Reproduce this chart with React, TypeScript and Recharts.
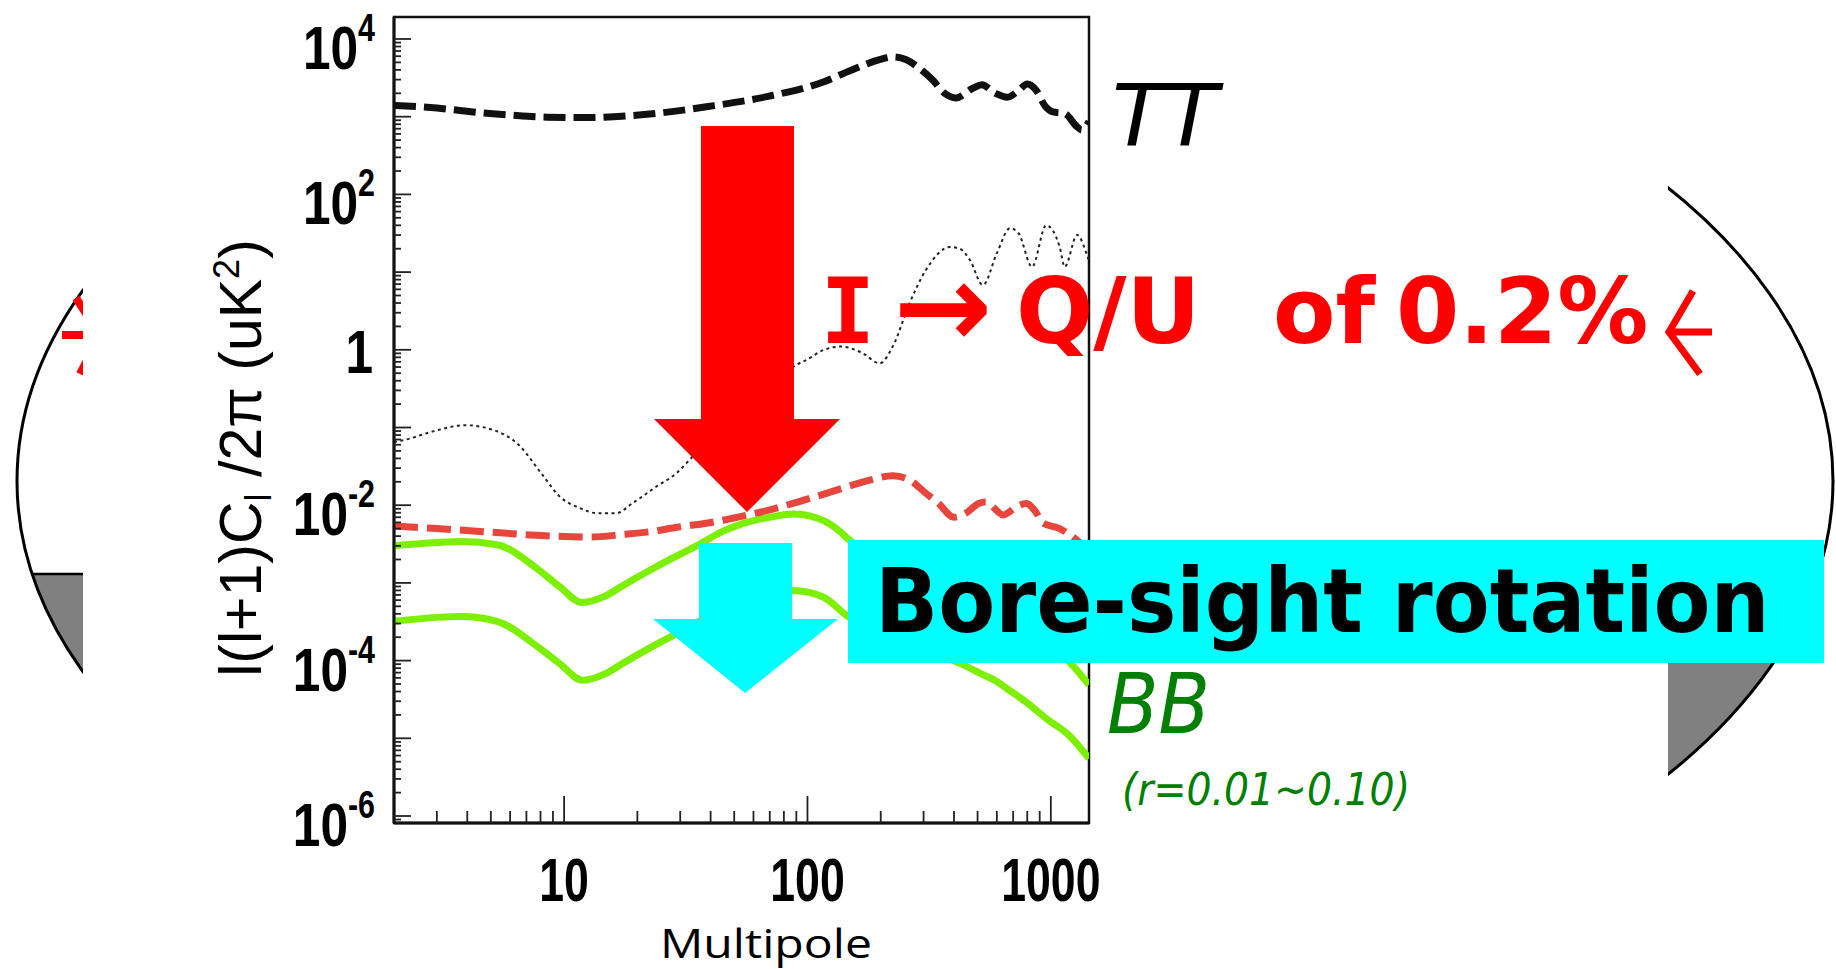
import React from 'react';
import { LineChart, Line, XAxis, YAxis, ReferenceArea } from 'recharts';

// ---------- data (multipole l, value in uK^2) ----------
const ttData = [
  { l: 2, v: 1400 }, { l: 3, v: 1290 }, { l: 4.5, v: 1130 }, { l: 6, v: 1050 }, { l: 8.5, v: 985 },
  { l: 12, v: 975 }, { l: 16, v: 1000 }, { l: 25, v: 1120 }, { l: 39, v: 1350 }, { l: 68, v: 1810 },
  { l: 117, v: 2820 }, { l: 152, v: 3990 }, { l: 201, v: 5500 }, { l: 225, v: 5900 }, { l: 255, v: 5400 },
  { l: 294, v: 3990 }, { l: 327, v: 2960 }, { l: 366, v: 2000 }, { l: 407, v: 1740 }, { l: 478, v: 2320 },
  { l: 520, v: 2570 }, { l: 592, v: 2000 }, { l: 662, v: 1780 }, { l: 740, v: 2190 }, { l: 800, v: 2630 },
  { l: 870, v: 2190 }, { l: 950, v: 1350 }, { l: 1020, v: 1150 }, { l: 1140, v: 1100 }, { l: 1280, v: 745 },
  { l: 1340, v: 675 }, { l: 1435, v: 870 },
];

const eeData = [
  { l: 2, v: 0.065 }, { l: 2.2, v: 0.069 }, { l: 3, v: 0.092 }, { l: 3.9, v: 0.107 }, { l: 5, v: 0.095 },
  { l: 6.5, v: 0.06 }, { l: 8.15, v: 0.0245 }, { l: 9.6, v: 0.0129 }, { l: 11.6, v: 0.0092 }, { l: 13.6, v: 0.0079 },
  { l: 16.4, v: 0.0079 }, { l: 19.1, v: 0.0106 }, { l: 23.9, v: 0.0173 }, { l: 28.9, v: 0.0257 }, { l: 33.7, v: 0.042 },
  { l: 45, v: 0.1 }, { l: 60, v: 0.22 }, { l: 75, v: 0.4 }, { l: 90, v: 0.64 }, { l: 99, v: 0.74 },
  { l: 117, v: 1.0 }, { l: 137, v: 1.1 }, { l: 169, v: 0.9 }, { l: 198, v: 0.67 }, { l: 224, v: 1.1 },
  { l: 263, v: 4.0 }, { l: 307, v: 10.7 }, { l: 385, v: 21 }, { l: 422, v: 20 }, { l: 465, v: 14.3 },
  { l: 526, v: 6.8 }, { l: 600, v: 17.5 }, { l: 680, v: 36.7 }, { l: 737, v: 31.6 }, { l: 837, v: 11.7 },
  { l: 957, v: 40 }, { l: 1088, v: 21 }, { l: 1140, v: 11.7 }, { l: 1283, v: 30 }, { l: 1400, v: 17.5 },
  { l: 1435, v: 14 },
];

const leakData = [
  { l: 2, v: 0.0054 }, { l: 3, v: 0.005 }, { l: 4.5, v: 0.0046 }, { l: 7.7, v: 0.0041 }, { l: 13, v: 0.0039 },
  { l: 17.4, v: 0.0042 }, { l: 23, v: 0.0046 }, { l: 28, v: 0.0051 }, { l: 39, v: 0.0059 }, { l: 45, v: 0.0064 },
  { l: 57, v: 0.0075 }, { l: 72, v: 0.0089 }, { l: 94, v: 0.0113 }, { l: 104, v: 0.0124 }, { l: 152, v: 0.018 },
  { l: 180, v: 0.021 }, { l: 224, v: 0.024 }, { l: 263, v: 0.021 }, { l: 307, v: 0.0142 }, { l: 344, v: 0.0107 },
  { l: 400, v: 0.007 }, { l: 450, v: 0.008 }, { l: 505, v: 0.0105 }, { l: 540, v: 0.011 }, { l: 638, v: 0.0075 },
  { l: 720, v: 0.0095 }, { l: 794, v: 0.0105 }, { l: 860, v: 0.0085 }, { l: 930, v: 0.0059 }, { l: 1088, v: 0.005 },
  { l: 1232, v: 0.0039 }, { l: 1300, v: 0.0034 }, { l: 1435, v: 0.0025 },
];

const bbHighData = [
  { l: 2, v: 0.003 }, { l: 3, v: 0.0033 }, { l: 3.8, v: 0.0034 }, { l: 5.3, v: 0.0031 }, { l: 7.8, v: 0.0015 },
  { l: 9.6, v: 0.00089 }, { l: 11.8, v: 0.00056 }, { l: 14.8, v: 0.00068 }, { l: 17.4, v: 0.00092 }, { l: 22.9, v: 0.0015 },
  { l: 28, v: 0.0021 }, { l: 35, v: 0.003 }, { l: 44.8, v: 0.0046 }, { l: 51.6, v: 0.0055 }, { l: 71.6, v: 0.0071 },
  { l: 87, v: 0.0077 }, { l: 110, v: 0.0068 }, { l: 137, v: 0.0045 }, { l: 145, v: 0.0038 }, { l: 200, v: 0.0022 },
  { l: 300, v: 0.0014 }, { l: 424, v: 0.00092 }, { l: 526, v: 0.00066 }, { l: 600, v: 0.00054 }, { l: 658, v: 0.00044 },
  { l: 794, v: 0.00029 }, { l: 957, v: 0.00018 }, { l: 1204, v: 0.000093 }, { l: 1435, v: 0.000049 },
];

const bbLowData = [
  { l: 2, v: 0.00032 }, { l: 3, v: 0.00036 }, { l: 3.8, v: 0.00037 }, { l: 5.3, v: 0.00032 }, { l: 7.8, v: 0.00015 },
  { l: 9.6, v: 0.000091 }, { l: 11.9, v: 0.000056 }, { l: 14.8, v: 0.000068 }, { l: 17.4, v: 0.000092 }, { l: 22.9, v: 0.00015 },
  { l: 28, v: 0.00021 }, { l: 45, v: 0.00045 }, { l: 60, v: 0.00062 }, { l: 87, v: 0.0008 }, { l: 116, v: 0.00066 },
  { l: 145, v: 0.00038 }, { l: 200, v: 0.00022 }, { l: 300, v: 0.00014 }, { l: 424, v: 0.000092 }, { l: 526, v: 0.000066 },
  { l: 600, v: 0.000054 }, { l: 658, v: 0.000044 }, { l: 794, v: 0.000029 }, { l: 957, v: 0.000018 }, { l: 1204, v: 0.0000105 },
  { l: 1435, v: 0.0000055 },
];

// ---------- axes ----------
const xDomain = [2, 1435];
const yDomain = [Math.pow(10, -6.09), Math.pow(10, 4.283)];
const xTicks = [3, 4, 5, 6, 7, 8, 9, 10, 20, 30, 40, 50, 60, 70, 80, 90, 100, 200, 300, 400, 500, 600, 700, 800, 900, 1000];
const xTickLabels: Record<number, string> = { 10: '10', 100: '100', 1000: '1000' };
const yTicks: number[] = [];
for (let e = -7; e <= 4; e++) {
  for (let m = 1; m <= 9; m++) {
    const v = Number((m * Math.pow(10, e)).toPrecision(3));
    if (v >= yDomain[0] && v <= yDomain[1]) yTicks.push(v);
  }
}
const yLabelExps: Record<number, string> = { [-6]: '-6', [-4]: '-4', [-2]: '-2', 2: '2', 4: '4' };

const XTick = (props: any) => {
  const { x, y, payload } = props;
  const v = payload.value;
  const lg = Math.log10(v);
  const major = Math.abs(lg - Math.round(lg)) < 1e-9;
  const len = major ? 27 : 12;
  const label = xTickLabels[v];
  return (
    <g>
      <line x1={x} y1={y} x2={x} y2={y - len} stroke="#222" strokeWidth={1.8} />
      {label && (
        <g transform={`translate(${x} ${y + 78}) scale(0.72 1)`}>
          <text x={0} y={0} textAnchor="middle" fontFamily="'Liberation Sans', Arial, sans-serif" fontWeight={700} fontSize={62} fill="#000">
            {label}
          </text>
        </g>
      )}
    </g>
  );
};

const YTick = (props: any) => {
  const { x, y, payload } = props;
  const v = payload.value;
  const lg = Math.log10(v);
  const e = Math.round(lg);
  const major = Math.abs(lg - e) < 1e-9;
  const len = major ? 17 : 7;
  let label: React.ReactNode = null;
  if (major && e === 0) {
    label = (
      <g transform={`translate(373 ${y + 23}) scale(0.8 1)`}>
        <text textAnchor="end" fontFamily="'Liberation Sans', Arial, sans-serif" fontWeight={700} fontSize={62} fill="#000">1</text>
      </g>
    );
  } else if (major && yLabelExps[e] !== undefined) {
    label = (
      <g transform={`translate(375 ${y + 30}) scale(0.8 1)`}>
        <text textAnchor="end" fontFamily="'Liberation Sans', Arial, sans-serif" fontWeight={700} fontSize={62} fill="#000">
          10<tspan fontSize={38} dy={-28}>{yLabelExps[e]}</tspan>
        </text>
      </g>
    );
  }
  return (
    <g>
      <line x1={x} y1={y} x2={x + len} y2={y} stroke="#222" strokeWidth={1.8} />
      {label}
    </g>
  );
};

export default function App() {
  const W = 1836;
  const H = 969;
  return (
    <div style={{ position: 'absolute', left: 0, top: 0, width: W, height: H, background: '#fff', overflow: 'hidden' }}>
      {/* background slide drawing */}
      <svg style={{ position: 'absolute', left: 0, top: 0 }} width={W} height={H}>
        <defs>
          <clipPath id="ellClip">
            <ellipse cx={925} cy={481} rx={908} ry={510} />
          </clipPath>
        </defs>
        <rect x={0} y={574} width={W} height={420} fill="#808080" clipPath="url(#ellClip)" />
        <line x1={0} y1={574} x2={W} y2={574} stroke="#000" strokeWidth={2.5} clipPath="url(#ellClip)" />
        <ellipse cx={925} cy={481} rx={908} ry={510} fill="none" stroke="#000" strokeWidth={3} />
        <path d="M62 335 H100 M76 298 L100 335 L80 374" stroke="#ff0000" strokeWidth={8} fill="none" />
        <rect x={83} y={0} width={1585} height={H} fill="#fff" />
      </svg>

      <div style={{ position: 'absolute', left: 0, top: 0 }}>
        <LineChart width={W} height={H} margin={{ top: 17, right: 747, bottom: 116, left: 364 }}>
          <XAxis
            dataKey="l"
            type="number"
            scale="log"
            domain={xDomain}
            allowDataOverflow
            ticks={xTicks}
            interval={0}
            height={30}
            tickSize={0}
            tickMargin={0}
            tickLine={false}
            axisLine={{ stroke: '#111', strokeWidth: 3 }}
            tick={<XTick />}
          />
          <YAxis
            type="number"
            scale="log"
            domain={yDomain}
            allowDataOverflow
            ticks={yTicks}
            interval={0}
            width={30}
            tickSize={0}
            tickMargin={0}
            tickLine={false}
            axisLine={{ stroke: '#111', strokeWidth: 3 }}
            tick={<YTick />}
          />
          <ReferenceArea x1={xDomain[0]} x2={xDomain[1]} y1={yDomain[0]} y2={yDomain[1]} fill="none" stroke="#111" strokeWidth={2.5} ifOverflow="visible" />
          <Line data={eeData} dataKey="v" type="monotone" stroke="#222" strokeWidth={2} strokeDasharray="3 3.5" dot={false} activeDot={false} isAnimationActive={false} />
          <Line data={bbLowData} dataKey="v" type="monotone" stroke="#7cf000" strokeWidth={7} dot={false} activeDot={false} isAnimationActive={false} />
          <Line data={bbHighData} dataKey="v" type="monotone" stroke="#7cf000" strokeWidth={7} dot={false} activeDot={false} isAnimationActive={false} />
          <Line data={leakData} dataKey="v" type="monotone" stroke="#e8453c" strokeWidth={7} strokeDasharray="24 9" dot={false} activeDot={false} isAnimationActive={false} />
          <Line data={ttData} dataKey="v" type="monotone" stroke="#111" strokeWidth={7} strokeDasharray="22 8" dot={false} activeDot={false} isAnimationActive={false} />
        </LineChart>
      </div>

      {/* annotations */}
      <svg style={{ position: 'absolute', left: 0, top: 0, pointerEvents: 'none' }} width={W} height={H}>
        <text transform="translate(261 458) rotate(-90)" textAnchor="middle" fontFamily="'Liberation Sans', Arial, sans-serif" fontSize={59} fill="#000">
          l(l+1)C<tspan fontSize={36} dy={10}>l</tspan><tspan dy={-10}> /2π (uK</tspan><tspan fontSize={36} dy={-22}>2</tspan><tspan dy={22}>)</tspan>
        </text>
        <text x={660} y={958} fontFamily="'Open Sans', sans-serif" fontSize={41} textLength={212} lengthAdjust="spacingAndGlyphs" fill="#000">Multipole</text>

        <text x={1112} y={145} fontFamily="'DejaVu Sans', sans-serif" fontStyle="italic" fontSize={86} textLength={106} lengthAdjust="spacingAndGlyphs" fill="#000">TT</text>
        <text x={1107} y={733} fontFamily="'DejaVu Sans', sans-serif" fontStyle="italic" fontSize={84} textLength={103} lengthAdjust="spacingAndGlyphs" fill="#008000">BB</text>
        <text x={1122} y={805} fontFamily="'DejaVu Sans', sans-serif" fontStyle="italic" fontSize={44} textLength={288} lengthAdjust="spacingAndGlyphs" fill="#008000">(r=0.01~0.10)</text>

        {/* red arrow */}
        <polygon points="701,126 794,126 794,419 840,419 747,512 654,419 701,419" fill="#ff0000" />
        {/* cyan arrow */}
        <polygon points="699,543 792,543 792,619 838,619 745,693 653,619 699,619" fill="#00ffff" />

        {/* red statement */}
        <g fill="#ff0000" fontWeight={700}>
          <text x={848} y={343} textAnchor="middle" fontFamily="'DejaVu Sans Mono', monospace" fontSize={91}>I</text>
          <text x={943} y={347} textAnchor="middle" fontFamily="'DejaVu Sans', sans-serif" fontSize={118}>→</text>
          <text x={1016} y={343} fontFamily="'DejaVu Sans', sans-serif" fontSize={91}>Q/U</text>
          <text x={1273} y={343} fontFamily="'DejaVu Sans', sans-serif" fontSize={91}>of</text>
          <text x={1396} y={343} fontFamily="'DejaVu Sans', sans-serif" fontSize={91}>0.2%</text>
        </g>
        <path d="M1693 291 L1669 332 L1700 374 M1669 332 H1712" stroke="#ff0000" strokeWidth={7} fill="none" />

        {/* cyan box */}
        <rect x={848} y={540} width={976} height={123} fill="#00ffff" />
        <g transform="translate(875 632) scale(1 1.08)">
          <text x={0} y={0} fontFamily="'DejaVu Sans', sans-serif" fontWeight={700} fontSize={83} fill="#000">Bore-sight rotation</text>
        </g>
      </svg>
    </div>
  );
}
